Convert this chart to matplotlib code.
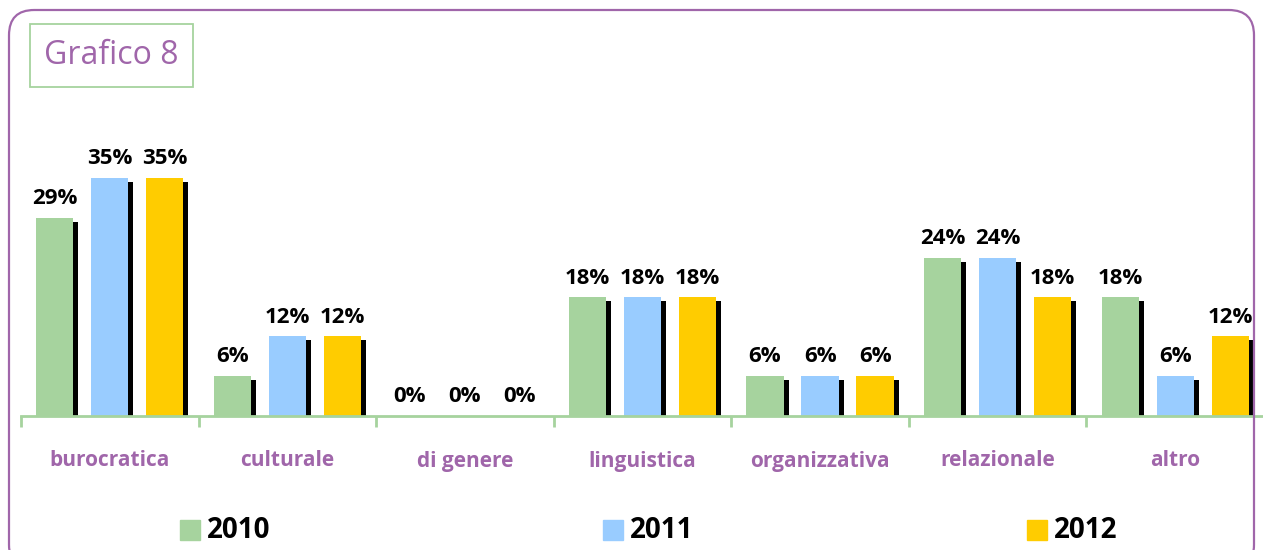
import matplotlib
matplotlib.use("Agg")
import matplotlib.pyplot as plt
from matplotlib.patches import FancyBboxPatch, Rectangle
import numpy as np

categories = ["burocratica", "culturale", "di genere", "linguistica",
              "organizzativa", "relazionale", "altro"]
series_names = ["2010", "2011", "2012"]
v2010 = [29.4, 5.9, 0.0, 17.6, 5.9, 23.5, 17.6]
v2011 = [35.3, 11.8, 0.0, 17.6, 5.9, 23.5, 5.9]
v2012 = [35.3, 11.8, 0.0, 17.6, 5.9, 17.6, 11.8]
labels2010 = ["29%", "6%", "0%", "18%", "6%", "24%", "18%"]
labels2011 = ["35%", "12%", "0%", "18%", "6%", "24%", "6%"]
labels2012 = ["35%", "12%", "0%", "18%", "6%", "18%", "12%"]

colors = ["#A6D39E", "#99CCFF", "#FFCC00"]
purple = "#A066AA"
axis_green = "#A6D39E"

plt.rcParams['font.family'] = ['Open Sans', 'DejaVu Sans']

W, H = 1263, 550
fig = plt.figure(figsize=(W / 100, H / 100), dpi=100)

# outer rounded border
border = FancyBboxPatch((9 / W, -20 / H), (1254 - 9) / W, (540 - (-20)) / H,
                        boxstyle="round,pad=0,rounding_size=0.02",
                        transform=fig.transFigure, fill=False,
                        edgecolor=purple, linewidth=1.6, mutation_aspect=W / H)
fig.patches.append(border)

# title box
tb = Rectangle((30 / W, 1 - 87 / H), (193 - 30) / W, (87 - 24) / H,
               transform=fig.transFigure, fill=False, edgecolor="#A6D39E", linewidth=1.3)
fig.patches.append(tb)
fig.text(111 / W, 1 - 55 / H, "Grafico 8", color=purple, fontsize=23,
         ha="center", va="center", fontweight="normal")

ax_left, ax_right = 21 / W, 1264 / W
ax_bottom, ax_top = 1 - 416 / H, 1 - 100 / H
ax = fig.add_axes([ax_left, ax_bottom, ax_right - ax_left, ax_top - ax_bottom])
px_per_pct = 6.74
ax.set_ylim(0, 316 / px_per_pct)
ax.set_xlim(-0.5, len(categories) - 0.5)

x = np.arange(len(categories))
bw = 0.21
offs = [-0.31, 0, 0.31]
data = [v2010, v2011, v2012]
labs = [labels2010, labels2011, labels2012]
dx = 5 / 177.6
dy = 4 / px_per_pct
for i, (vals, lab) in enumerate(zip(data, labs)):
    xs = x + offs[i]
    sh_h = [max(v - dy, 0) for v in vals]
    ax.bar(xs + dx, sh_h, width=bw, color="black", zorder=1)
    ax.bar(xs, vals, width=bw, color=colors[i], zorder=2, label=series_names[i])
    for xi, v, t in zip(xs, vals, lab):
        ax.text(xi, v + 1.3, t, ha="center", va="bottom", fontsize=16,
                fontweight="bold", color="black")

for s in ["top", "right", "left"]:
    ax.spines[s].set_visible(False)
ax.spines["bottom"].set_color(axis_green)
ax.spines["bottom"].set_linewidth(2)
ax.set_yticks([])
ax.set_xticks(np.arange(len(categories) + 1) - 0.5)
ax.set_xticklabels([])
ax.tick_params(axis="x", length=8, width=2, color=axis_green, direction="out")
for xi, c in zip(x, categories):
    ax.text(xi, -45 / px_per_pct, c, ha="center", va="center", fontsize=15,
            fontweight="bold", color=purple)

# legend
leg_items = [(180, "2010"), (603, "2011"), (1027, "2012")]
for (lx, name), col in zip(leg_items, colors):
    fig.patches.append(Rectangle((lx / W, 1 - 540 / H), 20 / W, 20 / H,
                                 transform=fig.transFigure, color=col))
    fig.text((lx + 27) / W, 1 - 530 / H, name, fontsize=20, fontweight="bold",
             ha="left", va="center", color="black")

fig.savefig("out.png", dpi=100)
